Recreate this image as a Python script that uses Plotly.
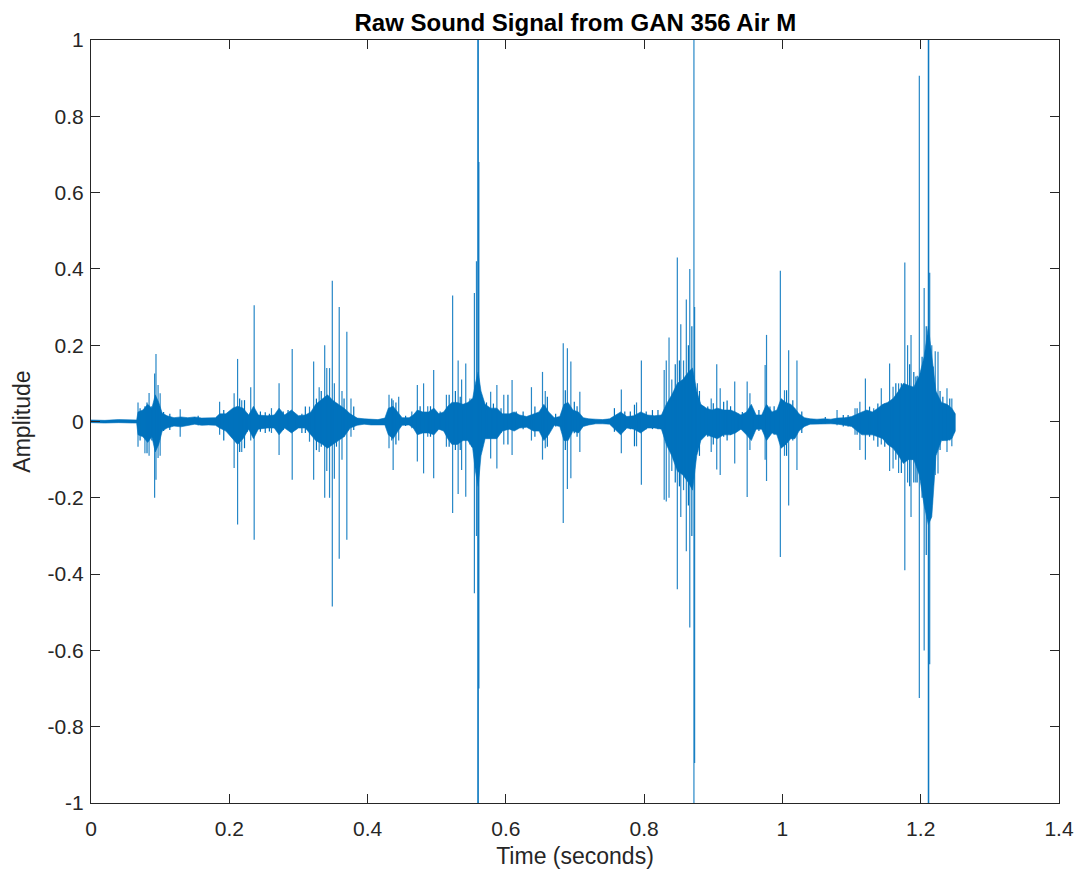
import plotly.graph_objects as go

# ---- data ----
# dense core of the waveform: time (s), upper and lower envelope
band_t = [0.000, 0.020, 0.040, 0.060, 0.066, 0.068, 0.075, 0.082, 0.088, 0.093,
          0.098, 0.103, 0.110, 0.120, 0.130, 0.140, 0.150, 0.160, 0.170, 0.180,
          0.186, 0.195, 0.205, 0.212, 0.220, 0.228, 0.235, 0.242, 0.255, 0.265,
          0.272, 0.280, 0.290, 0.300, 0.310, 0.318, 0.325, 0.335, 0.342, 0.350,
          0.358, 0.366, 0.375, 0.385, 0.395, 0.405, 0.415, 0.425, 0.430, 0.437,
          0.444, 0.450, 0.460, 0.466, 0.472, 0.480, 0.488, 0.496, 0.503, 0.510,
          0.516, 0.522, 0.530, 0.538, 0.545, 0.552, 0.556, 0.560, 0.564, 0.570,
          0.578, 0.587, 0.595, 0.605, 0.612, 0.620, 0.630, 0.640, 0.648, 0.655,
          0.662, 0.670, 0.678, 0.684, 0.690, 0.697, 0.705, 0.712, 0.720, 0.730,
          0.740, 0.750, 0.758, 0.766, 0.775, 0.785, 0.795, 0.805, 0.815, 0.825,
          0.832, 0.840, 0.848, 0.856, 0.864, 0.870, 0.876, 0.882, 0.890, 0.898,
          0.906, 0.915, 0.925, 0.932, 0.940, 0.948, 0.955, 0.962, 0.970, 0.977,
          0.985, 0.992, 0.998, 1.005, 1.012, 1.018, 1.024, 1.032, 1.040, 1.050,
          1.060, 1.070, 1.080, 1.090, 1.100, 1.108, 1.115, 1.122, 1.130, 1.138,
          1.145, 1.152, 1.160, 1.168, 1.175, 1.182, 1.190, 1.198, 1.205, 1.211,
          1.216, 1.222, 1.230, 1.238, 1.245, 1.250]
band_hi = [0.004, 0.003, 0.005, 0.003, 0.004, 0.025, 0.030, 0.045, 0.035, 0.070,
           0.050, 0.022, 0.015, 0.010, 0.012, 0.010, 0.012, 0.009, 0.010, 0.010,
           0.020, 0.020, 0.035, 0.040, 0.035, 0.017, 0.040, 0.017, 0.015, 0.017,
           0.035, 0.017, 0.030, 0.015, 0.017, 0.025, 0.045, 0.060, 0.070, 0.055,
           0.045, 0.035, 0.020, 0.009, 0.007, 0.006, 0.005, 0.009, 0.035, 0.040,
           0.025, 0.010, 0.010, 0.017, 0.030, 0.025, 0.025, 0.035, 0.020, 0.025,
           0.040, 0.050, 0.050, 0.045, 0.050, 0.060, 0.100, 0.130, 0.080, 0.045,
           0.035, 0.035, 0.020, 0.020, 0.025, 0.017, 0.013, 0.020, 0.025, 0.045,
           0.025, 0.010, 0.013, 0.045, 0.050, 0.030, 0.025, 0.010, 0.007, 0.006,
           0.005, 0.007, 0.017, 0.025, 0.013, 0.015, 0.025, 0.017, 0.015, 0.017,
           0.045, 0.070, 0.100, 0.110, 0.130, 0.140, 0.080, 0.045, 0.035, 0.030,
           0.035, 0.030, 0.030, 0.025, 0.017, 0.025, 0.045, 0.017, 0.017, 0.045,
           0.025, 0.030, 0.060, 0.050, 0.045, 0.035, 0.020, 0.010, 0.007, 0.006,
           0.007, 0.006, 0.009, 0.010, 0.013, 0.020, 0.025, 0.030, 0.025, 0.035,
           0.045, 0.050, 0.060, 0.080, 0.100, 0.095, 0.090, 0.120, 0.170, 0.250,
           0.170, 0.080, 0.050, 0.045, 0.035, 0.020]
band_lo = [-0.003, -0.004, -0.003, -0.004, -0.004, -0.035, -0.040, -0.055, -0.040, -0.080,
           -0.060, -0.025, -0.017, -0.012, -0.014, -0.010, -0.007, -0.010, -0.009, -0.010,
           -0.017, -0.025, -0.045, -0.060, -0.045, -0.020, -0.045, -0.020, -0.017, -0.017,
           -0.035, -0.017, -0.030, -0.017, -0.017, -0.035, -0.050, -0.060, -0.070, -0.060,
           -0.050, -0.040, -0.017, -0.010, -0.007, -0.009, -0.009, -0.009, -0.035, -0.045,
           -0.025, -0.010, -0.009, -0.017, -0.035, -0.030, -0.030, -0.035, -0.020, -0.025,
           -0.045, -0.060, -0.060, -0.050, -0.050, -0.070, -0.130, -0.170, -0.090, -0.045,
           -0.045, -0.045, -0.025, -0.020, -0.025, -0.017, -0.015, -0.025, -0.025, -0.050,
           -0.035, -0.010, -0.013, -0.050, -0.050, -0.025, -0.030, -0.013, -0.009, -0.006,
           -0.006, -0.007, -0.020, -0.035, -0.017, -0.020, -0.030, -0.017, -0.017, -0.020,
           -0.060, -0.090, -0.130, -0.140, -0.160, -0.180, -0.090, -0.050, -0.035, -0.040,
           -0.045, -0.035, -0.035, -0.030, -0.020, -0.035, -0.050, -0.020, -0.020, -0.050,
           -0.030, -0.035, -0.070, -0.060, -0.045, -0.045, -0.025, -0.013, -0.007, -0.007,
           -0.006, -0.006, -0.007, -0.010, -0.013, -0.025, -0.035, -0.035, -0.035, -0.040,
           -0.045, -0.060, -0.070, -0.090, -0.110, -0.100, -0.100, -0.140, -0.220, -0.270,
           -0.250, -0.090, -0.050, -0.050, -0.045, -0.025]

# individual spikes: time (s), positive peak, negative peak
spike_t = [0.068, 0.078, 0.084, 0.092, 0.094, 0.097, 0.100, 0.129, 0.186, 0.207,
           0.212, 0.218, 0.231, 0.236, 0.261, 0.272, 0.291, 0.316, 0.322, 0.330,
           0.338, 0.341, 0.345, 0.349, 0.352, 0.359, 0.363, 0.370, 0.376, 0.431,
           0.437, 0.445, 0.464, 0.472, 0.481, 0.487, 0.4956, 0.514, 0.523, 0.531,
           0.536, 0.542, 0.548, 0.5545, 0.5575, 0.5595, 0.5601, 0.561, 0.578, 0.587,
           0.597, 0.609, 0.637, 0.653, 0.657, 0.683, 0.689, 0.694, 0.707, 0.767,
           0.789, 0.796, 0.829, 0.832, 0.836, 0.840, 0.848, 0.853, 0.857, 0.861,
           0.866, 0.872, 0.873, 0.877, 0.897, 0.905, 0.910, 0.931, 0.949, 0.953,
           0.975, 0.977, 0.997, 1.003, 1.009, 1.021, 1.079, 1.105, 1.112, 1.120,
           1.132, 1.143, 1.155, 1.160, 1.168, 1.177, 1.181, 1.186, 1.195, 1.198,
           1.205, 1.211, 1.2116, 1.213, 1.216, 1.221, 1.225, 1.238, 1.245]
spike_hi = [0.050, 0.040, 0.075, 0.126, 0.177, 0.096, 0.074, 0.032, 0.052, 0.074,
            0.164, 0.056, 0.090, 0.305, 0.035, 0.100, 0.190, 0.039, 0.157, 0.090,
            0.200, 0.140, 0.140, 0.369, 0.100, 0.300, 0.080, 0.235, 0.060, 0.070,
            0.056, 0.065, 0.026, 0.096, 0.100, 0.040, 0.135, 0.070, 0.330, 0.160,
            0.110, 0.152, 0.060, 0.337, 0.420, 1.000, 1.000, 0.680, 0.078, 0.096,
            0.070, 0.109, 0.090, 0.130, 0.080, 0.205, 0.192, 0.157, 0.078, 0.084,
            0.050, 0.160, 0.135, 0.160, 0.220, 0.110, 0.430, 0.255, 0.160, 0.320,
            0.400, 1.000, 0.300, 0.100, 0.060, 0.150, 0.087, 0.105, 0.105, 0.074,
            0.148, 0.227, 0.395, 0.082, 0.187, 0.160, 0.030, 0.035, 0.052, 0.113,
            0.035, 0.087, 0.152, 0.091, 0.100, 0.417, 0.200, 0.227, 0.120, 0.906,
            0.350, 1.000, 1.000, 0.390, 0.200, 0.184, 0.183, 0.087, 0.060]
spike_lo = [-0.066, -0.083, -0.090, -0.200, -0.153, -0.096, -0.090, -0.040, -0.035, -0.122,
            -0.270, -0.080, -0.050, -0.310, -0.030, -0.088, -0.153, -0.053, -0.153, -0.080,
            -0.200, -0.130, -0.200, -0.485, -0.150, -0.360, -0.100, -0.310, -0.040, -0.070,
            -0.127, -0.050, -0.018, -0.105, -0.136, -0.040, -0.149, -0.066, -0.240, -0.190,
            -0.127, -0.197, -0.060, -0.450, -0.300, -1.000, -1.000, -0.700, -0.097, -0.123,
            -0.060, -0.088, -0.050, -0.100, -0.070, -0.266, -0.177, -0.149, -0.080, -0.083,
            -0.065, -0.166, -0.205, -0.210, -0.200, -0.130, -0.440, -0.250, -0.180, -0.340,
            -0.540, -1.000, -0.895, -0.080, -0.080, -0.126, -0.140, -0.110, -0.198, -0.075,
            -0.100, -0.156, -0.355, -0.090, -0.220, -0.127, -0.010, -0.035, -0.075, -0.100,
            -0.050, -0.060, -0.130, -0.123, -0.135, -0.390, -0.160, -0.250, -0.160, -0.725,
            -0.600, -1.000, -1.000, -0.636, -0.218, -0.140, -0.136, -0.080, -0.065]

# smaller spikes that make up the ragged edge of the core
minor_t = [0.071, 0.081, 0.088, 0.105, 0.114, 0.155, 0.192, 0.200, 0.215, 0.222,
           0.226, 0.245, 0.252, 0.258, 0.278, 0.285, 0.297, 0.305, 0.310, 0.326,
           0.333, 0.355, 0.366, 0.380, 0.435, 0.441, 0.455, 0.476, 0.491, 0.505,
           0.518, 0.527, 0.534, 0.551, 0.566, 0.572, 0.582, 0.593, 0.603, 0.615,
           0.625, 0.642, 0.660, 0.672, 0.686, 0.699, 0.703, 0.757, 0.772, 0.780,
           0.786, 0.803, 0.812, 0.820, 0.843, 0.845, 0.851, 0.864, 0.869, 0.880,
           0.886, 0.892, 0.900, 0.915, 0.920, 0.925, 0.936, 0.942, 0.958, 0.966,
           0.982, 0.988, 1.006, 1.015, 1.028, 1.062, 1.088, 1.095, 1.108, 1.126,
           1.138, 1.148, 1.164, 1.172, 1.184, 1.190, 1.193, 1.202, 1.208, 1.218,
           1.228, 1.232, 1.242, 1.248]
minor_hi = [0.035, 0.050, 0.040, 0.025, 0.020, 0.015, 0.030, 0.025, 0.060, 0.056,
            0.020, 0.026, 0.024, 0.020, 0.026, 0.030, 0.017, 0.020, 0.039, 0.060,
            0.080, 0.047, 0.060, 0.039, 0.060, 0.050, 0.015, 0.040, 0.040, 0.026,
            0.070, 0.080, 0.065, 0.060, 0.047, 0.050, 0.047, 0.035, 0.070, 0.026,
            0.026, 0.039, 0.065, 0.020, 0.082, 0.052, 0.040, 0.035, 0.026, 0.026,
            0.044, 0.026, 0.030, 0.030, 0.056, 0.150, 0.160, 0.200, 0.250, 0.080,
            0.040, 0.039, 0.048, 0.052, 0.055, 0.040, 0.020, 0.025, 0.030, 0.030,
            0.039, 0.040, 0.082, 0.056, 0.026, 0.012, 0.017, 0.017, 0.035, 0.039,
            0.047, 0.047, 0.100, 0.100, 0.150, 0.130, 0.118, 0.170, 0.250, 0.144,
            0.080, 0.065, 0.060, 0.017]
minor_lo = [-0.050, -0.083, -0.050, -0.025, -0.022, -0.010, -0.050, -0.030, -0.080, -0.070,
            -0.027, -0.027, -0.030, -0.026, -0.022, -0.020, -0.018, -0.030, -0.030, -0.075,
            -0.066, -0.066, -0.040, -0.022, -0.050, -0.060, -0.012, -0.030, -0.040, -0.020,
            -0.066, -0.075, -0.075, -0.066, -0.050, -0.040, -0.040, -0.030, -0.060, -0.020,
            -0.020, -0.040, -0.066, -0.013, -0.075, -0.031, -0.040, -0.027, -0.022, -0.020,
            -0.065, -0.020, -0.020, -0.020, -0.100, -0.160, -0.170, -0.220, -0.300, -0.090,
            -0.040, -0.040, -0.060, -0.040, -0.050, -0.035, -0.020, -0.022, -0.025, -0.025,
            -0.030, -0.035, -0.090, -0.050, -0.030, -0.005, -0.013, -0.013, -0.035, -0.040,
            -0.066, -0.066, -0.100, -0.135, -0.170, -0.160, -0.160, -0.200, -0.350, -0.153,
            -0.075, -0.050, -0.050, -0.030]

x_ticks = [0, 0.2, 0.4, 0.6, 0.8, 1.0, 1.2, 1.4]
x_labels = ["0", "0.2", "0.4", "0.6", "0.8", "1", "1.2", "1.4"]
y_ticks = [-1, -0.8, -0.6, -0.4, -0.2, 0, 0.2, 0.4, 0.6, 0.8, 1]
y_labels = ["-1", "-0.8", "-0.6", "-0.4", "-0.2", "0", "0.2", "0.4", "0.6", "0.8", "1"]

LINE = "#0072BD"
AX = "#262626"
FONT = "Liberation Sans, Arial, sans-serif"

# ---- build traces ----
poly_x = band_t + band_t[::-1]
poly_y = band_hi + band_lo[::-1]


def segments(ts, his, los):
    xs, ys = [], []
    for t, h, l in zip(ts, his, los):
        xs += [t, t, None]
        ys += [l, h, None]
    return xs, ys


mx, my = segments(minor_t, minor_hi, minor_lo)
sx, sy = segments(spike_t, spike_hi, spike_lo)

fig = go.Figure()
fig.add_trace(go.Scatter(x=poly_x, y=poly_y, mode="lines", fill="toself",
                         fillcolor=LINE, line=dict(color=LINE, width=0.6),
                         hoverinfo="skip", showlegend=False))
fig.add_trace(go.Scatter(x=mx, y=my, mode="lines",
                         line=dict(color=LINE, width=1.2),
                         hoverinfo="skip", showlegend=False))
fig.add_trace(go.Scatter(x=sx, y=sy, mode="lines",
                         line=dict(color="rgba(0,114,189,0.85)", width=1.2),
                         hoverinfo="skip", showlegend=False))

axis_common = dict(showgrid=False, zeroline=False, showline=True, linecolor=AX,
                   linewidth=1, mirror="ticks", ticks="inside", ticklen=9,
                   tickcolor=AX, tickwidth=1, automargin=False,
                   tickfont=dict(family=FONT, size=21, color=AX))

fig.update_layout(
    width=1076, height=871,
    margin=dict(l=91, r=17, t=40, b=68),
    paper_bgcolor="white", plot_bgcolor="white",
    title=dict(text="<b>Raw Sound Signal from GAN 356 Air M</b>",
               x=0.5348, xanchor="center", y=0.9736, yanchor="middle",
               font=dict(family=FONT, size=24, color="black")),
    xaxis=dict(range=[0, 1.4], tickvals=x_ticks, ticktext=x_labels,
               ticklabelstandoff=7,
               title=dict(text="Time (seconds)", standoff=8,
                          font=dict(family=FONT, size=23, color=AX)),
               **axis_common),
    yaxis=dict(range=[-1, 1], tickvals=y_ticks, ticktext=y_labels,
               ticklabelstandoff=2,
               title=dict(text="Amplitude", standoff=10,
                          font=dict(family=FONT, size=23, color=AX)),
               **axis_common),
)

fig.write_html("out.html")
